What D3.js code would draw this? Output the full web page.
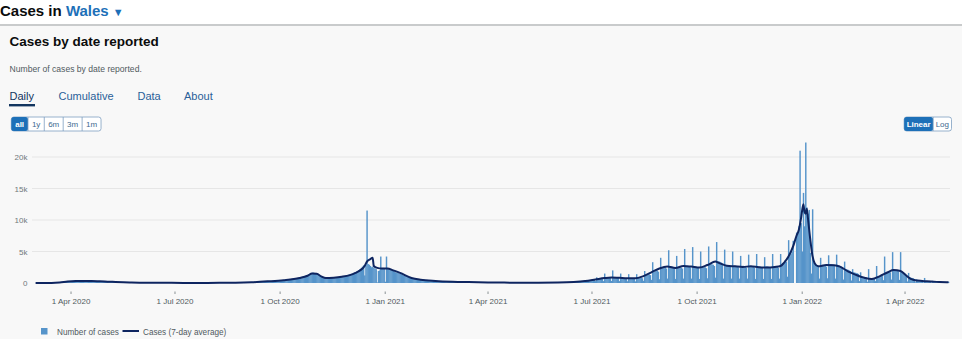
<!DOCTYPE html>
<html>
<head>
<meta charset="utf-8">
<script src="https://cdn.jsdelivr.net/npm/d3@7"></script>
<style>
  html, body { margin: 0; padding: 0; background: #f8f8f8; }
  svg { display: block; font-family: "Liberation Sans", Arial, sans-serif; }
</style>
</head>
<body>
<svg id="chart" width="962" height="339"></svg>
<script>
// Daily cases by date reported, Wales (one row per week, Sunday first)
// 1 Mar 2020 – 31 Dec 2020
const cases2020 = [
  0,1,0,1,2,2,3,
  4,6,8,10,12,16,20,
  24,30,40,50,70,90,110,
  130,150,180,200,220,240,250,
  260,280,300,320,330,320,340,
  300,330,360,350,370,340,320,
  300,340,350,360,340,330,310,
  290,320,330,320,300,290,270,
  250,270,280,270,260,240,230,
  210,230,220,210,200,190,180,
  160,170,170,160,150,140,130,
  120,130,120,110,110,100,95,
  85,90,90,85,80,75,70,
  60,65,62,60,55,50,48,
  45,48,45,42,40,38,36,
  33,36,34,32,30,30,28,
  26,28,27,25,24,23,22,
  20,22,21,20,19,18,18,
  17,19,18,18,17,16,16,
  15,17,16,16,15,15,14,
  14,16,15,15,14,14,14,
  14,16,16,17,16,17,17,
  18,20,19,20,21,20,22,
  22,25,24,26,25,27,28,
  28,32,30,33,34,35,36,
  38,42,44,46,48,50,55,
  58,65,70,80,90,100,110,
  115,130,140,150,160,170,180,
  190,200,215,230,240,250,260,
  270,290,300,320,330,340,350,
  360,380,400,420,430,450,470,
  480,510,540,560,580,600,620,
  650,690,720,760,780,800,830,
  860,920,980,1040,1100,1150,1200,
  1250,1350,1450,1550,1620,1650,1600,
  1500,1550,1450,1300,1150,1000,900,
  780,800,760,740,760,780,800,
  820,850,870,880,900,920,950,
  980,1010,1050,1080,1100,1150,1200,
  1250,1300,1350,1400,1450,1550,1650,
  1700,1800,1900,2000,2200,2400,2600,
  2800,1200,2900,11500,3000,2900,2700,
  2500,2600,2400,2300,2200,100,1900,
  2000,4200,2300,2400,2300
];

// 1 Jan 2021 – 31 Dec 2021
const cases2021 = [
  200,4200,
  2300,2200,2100,2100,2000,1900,1800,
  1700,1650,1600,1500,1450,1400,1300,
  1200,1150,1100,1000,950,900,850,
  780,760,720,680,650,620,600,
  560,540,520,500,480,460,440,
  420,400,390,370,360,350,330,
  320,310,300,290,280,270,260,
  250,240,240,230,220,215,210,
  200,200,195,190,185,180,175,
  170,165,160,160,155,150,150,
  145,140,140,135,130,130,125,
  120,120,115,110,110,105,100,
  100,95,95,90,90,85,85,
  80,80,75,75,70,70,68,
  65,65,62,60,60,58,56,
  55,54,52,50,50,48,47,
  46,45,44,44,43,42,42,
  41,40,40,40,39,38,38,
  38,37,37,36,36,36,35,
  35,36,36,37,38,38,40,
  42,44,46,48,50,53,56,
  60,65,70,75,80,86,92,
  100,108,116,125,135,145,155,
  165,180,195,210,225,240,255,
  270,285,300,315,330,345,360,
  380,420,440,470,500,520,540,
  300,900,650,680,700,720,650,
  300,1500,900,880,880,850,800,
  320,2000,900,880,860,820,800,
  300,1500,820,800,780,760,740,
  280,1400,780,760,740,720,700,
  260,1400,780,780,800,820,760,
  350,1900,1150,1250,1300,1350,1250,
  500,3300,1750,1850,1900,1950,1800,
  600,4000,2300,2400,2450,2500,2300,
  700,5200,2600,2650,2600,2550,2400,
  650,4300,2500,2550,2500,2450,2300,
  700,5400,2700,2750,2700,2650,2500,
  700,5700,2600,2650,2600,2550,2450,
  650,5000,2550,2600,2550,2500,2350,
  750,5800,2900,3000,2950,2900,2700,
  850,6500,3400,3450,3350,3250,3100,
  700,5300,2800,2850,2800,2750,2600,
  700,5000,2700,2750,2700,2650,2500,
  700,4300,2700,2750,2700,2650,2450,
  700,4500,2650,2700,2650,2600,2450,
  650,4600,2600,2650,2600,2550,2400,
  650,4100,2600,2650,2600,2550,2400,
  650,4600,2600,2650,2600,2550,2400,
  700,4600,2900,3100,3300,3600,3400,
  1000,6800,4200,4600,5000,6700,0,
  0,8000,7800,9000,21000,9500
];

// 1 Jan 2022 – 9 May 2022
const cases2022 = [
  5000,
  14300,9000,22300,12000,11000,11600,4800,
  1500,11700,3500,3000,2800,2700,2600,
  700,4000,2800,2900,2850,2800,2600,
  750,4400,2900,3000,2950,2900,2700,
  700,4500,2800,2800,2700,2600,2400,
  550,3400,2200,2150,2100,2000,1900,
  400,2200,1700,1650,1600,1550,1450,
  300,1700,1050,1000,980,950,900,
  200,2200,600,620,650,700,680,
  300,2700,1000,1050,1100,1150,1100,
  450,4200,1600,1650,1700,1750,1700,
  550,4900,2000,2050,2000,1950,1850,
  500,4900,1800,1700,1600,1450,1300,
  250,1600,900,850,800,750,650,
  120,600,420,400,380,360,340,
  80,800,280,270,260,250,240,
  60,350,210,200,190,185,170,
  50,300,160,155,150,145,130,
  40,200
];

const seriesStarts = ["2020-03-01", "2021-01-01", "2022-01-01"];

// Cases (7-day average)
const averagePoints = [
  ["2020-03-01",0],["2020-03-15",15],["2020-03-22",80],["2020-03-29",220],
  ["2020-04-05",310],["2020-04-12",335],["2020-04-19",320],["2020-04-26",270],
  ["2020-05-03",215],["2020-05-10",160],["2020-05-17",115],["2020-05-24",82],
  ["2020-05-31",58],["2020-06-14",33],["2020-06-28",21],["2020-07-19",15],
  ["2020-08-09",22],["2020-08-23",40],["2020-09-06",110],["2020-09-20",260],
  ["2020-10-04",450],["2020-10-18",800],["2020-10-25",1150],["2020-10-29",1500],
  ["2020-11-02",1450],["2020-11-06",1050],["2020-11-10",780],["2020-11-17",850],
  ["2020-11-24",1000],["2020-12-01",1250],["2020-12-06",1600],["2020-12-10",2000],
  ["2020-12-14",2700],["2020-12-16",3400],["2020-12-19",3800],["2020-12-21",4000],
  ["2020-12-22",2700],["2020-12-25",2400],["2020-12-29",2300],["2021-01-03",2300],
  ["2021-01-08",2000],["2021-01-14",1600],["2021-01-24",800],["2021-02-01",520],
  ["2021-02-14",320],["2021-03-01",200],["2021-03-15",145],["2021-04-01",95],
  ["2021-04-15",62],["2021-05-01",45],["2021-05-15",36],["2021-06-01",62],
  ["2021-06-15",150],["2021-06-25",300],["2021-07-04",550],["2021-07-12",780],
  ["2021-07-18",880],["2021-07-25",820],["2021-08-01",760],["2021-08-08",740],
  ["2021-08-15",1100],["2021-08-22",1700],["2021-08-29",2300],["2021-09-05",2600],
  ["2021-09-12",2400],["2021-09-19",2700],["2021-09-26",2600],["2021-10-03",2450],
  ["2021-10-10",2850],["2021-10-17",3400],["2021-10-20",3200],["2021-10-27",2750],
  ["2021-11-03",2650],["2021-11-10",2550],["2021-11-17",2650],["2021-11-24",2500],
  ["2021-12-01",2450],["2021-12-08",2550],["2021-12-13",2700],["2021-12-16",3200],
  ["2021-12-20",4200],["2021-12-24",5800],["2021-12-27",7500],["2021-12-29",8400],
  ["2021-12-31",10300],["2022-01-02",12500],["2022-01-03",11300],["2022-01-04",11000],
  ["2022-01-05",11800],["2022-01-06",10300],["2022-01-08",7000],["2022-01-10",4300],
  ["2022-01-12",3100],["2022-01-15",2650],["2022-01-22",2850],["2022-01-29",2800],
  ["2022-02-03",2600],["2022-02-10",1850],["2022-02-17",1300],["2022-02-24",850],
  ["2022-03-03",620],["2022-03-10",1100],["2022-03-17",1700],["2022-03-22",2050],
  ["2022-03-28",1900],["2022-04-02",1200],["2022-04-06",650],["2022-04-12",380],
  ["2022-04-20",260],["2022-05-01",160],["2022-05-09",100]
];

const yTickValues = [0, 5000, 10000, 15000, 20000];
const yTickLabels = ["0", "5k", "10k", "15k", "20k"];
const xTickDates = ["2020-04-01","2020-07-01","2020-10-01","2021-01-01","2021-04-01",
                    "2021-07-01","2021-10-01","2022-01-01","2022-04-01"];
const xTickLabels = ["1 Apr 2020","1 Jul 2020","1 Oct 2020","1 Jan 2021","1 Apr 2021",
                     "1 Jul 2021","1 Oct 2021","1 Jan 2022","1 Apr 2022"];
const tabLabels = ["Daily", "Cumulative", "Data", "About"];
const rangeLabels = ["all", "1y", "6m", "3m", "1m"];
const scaleLabels = ["Linear", "Log"];
const legendLabels = ["Number of cases", "Cases (7-day average)"];

const BAR = "#5694ca", LINE = "#0e2560", BLUE = "#1d70b8";
const parse = d3.utcParse("%Y-%m-%d");

// flatten the yearly arrays into one daily series
const daily = [];
[cases2020, cases2021, cases2022].forEach((arr, i) => {
  const start = parse(seriesStarts[i]);
  arr.forEach((v, k) => daily.push({ date: d3.utcDay.offset(start, k), value: v }));
});
const average = averagePoints.map(([d, v]) => ({ date: parse(d), value: v }));

const svg = d3.select("#chart");

// page header
svg.append("rect").attr("width", 962).attr("height", 25).attr("fill", "#ffffff");
svg.append("rect").attr("y", 24).attr("width", 962).attr("height", 2).attr("fill", "#c9cbcc");
const head = svg.append("text").attr("x", 0).attr("y", 16)
  .attr("font-size", 15).attr("font-weight", 700).attr("fill", "#0b0c0c");
head.append("tspan").text("Cases in ");
head.append("tspan").attr("fill", BLUE).text("Wales");
head.append("tspan").attr("fill", BLUE).attr("font-size", 11).attr("dx", 4).text("▼");

svg.append("text").attr("x", 9.5).attr("y", 46).attr("font-size", 13.5)
  .attr("font-weight", 700).attr("fill", "#0b0c0c").text("Cases by date reported");
svg.append("text").attr("x", 9.5).attr("y", 72).attr("font-size", 8.6)
  .attr("fill", "#505a5f").text("Number of cases by date reported.");

// tabs
const tabX = [9.5, 58.5, 137.5, 184];
tabLabels.forEach((t, i) => {
  svg.append("text").attr("x", tabX[i]).attr("y", 100).attr("font-size", 11)
    .attr("fill", i === 0 ? "#12355f" : "#2a5f98").text(t);
});
svg.append("rect").attr("x", 9).attr("y", 104).attr("width", 26).attr("height", 2.4)
  .attr("fill", "#12355f");

// button groups
function buttonGroup(labels, x0, alignRight, pad) {
  const g = svg.append("g");
  const texts = labels.map((t, i) => g.append("text").attr("font-size", 8)
    .attr("font-weight", i === 0 ? 700 : 400).text(t));
  const widths = texts.map(t => t.node().getComputedTextLength() + pad);
  const total = d3.sum(widths);
  let x = alignRight ? x0 - total : x0;
  const y = 117, h = 14;
  g.insert("rect", "text").attr("x", x).attr("y", y).attr("width", total).attr("height", h)
    .attr("rx", 2.5).attr("fill", "#ffffff").attr("stroke", "#7d9ec0").attr("stroke-width", 0.8);
  texts.forEach((t, i) => {
    if (i === 0) {
      g.insert("rect", "text").attr("x", x).attr("y", y).attr("width", widths[0]).attr("height", h)
        .attr("rx", 2.5).attr("fill", BLUE);
      t.attr("fill", "#ffffff");
    } else {
      g.insert("line", "text").attr("x1", x).attr("x2", x).attr("y1", y).attr("y2", y + h)
        .attr("stroke", "#7d9ec0").attr("stroke-width", 0.8);
      t.attr("fill", "#41698f");
    }
    t.attr("x", x + widths[i] / 2).attr("y", y + 10).attr("text-anchor", "middle");
    x += widths[i];
  });
}
buttonGroup(rangeLabels, 11.3, false, 7.8);
buttonGroup(scaleLabels, 951.5, true, 5);

// scales
const x = d3.scaleUtc().domain([parse("2020-03-01"), parse("2022-05-10")]).range([35.6, 949.6]);
const y = d3.scaleLinear().domain([0, 20000]).range([283, 157]);

// gridlines + y labels
const yAxis = svg.append("g");
yAxis.selectAll("line").data(yTickValues.slice(1)).join("line")
  .attr("x1", 32).attr("x2", 950).attr("y1", d => y(d)).attr("y2", d => y(d))
  .attr("stroke", "#e6e6e6").attr("stroke-width", 1);
yAxis.selectAll("text").data(yTickValues).join("text")
  .attr("x", 27.5).attr("y", d => y(d) + 3).attr("text-anchor", "end")
  .attr("font-size", 8).attr("fill", "#6f777b").text((d, i) => yTickLabels[i]);

// daily bars
const step = x(parse("2020-03-02")) - x(parse("2020-03-01"));
svg.append("g").selectAll("rect").data(daily.filter(d => d.value > 0)).join("rect")
  .attr("x", d => x(d.date) - step / 2)
  .attr("width", step + 0.3)
  .attr("y", d => y(d.value))
  .attr("height", d => y(0) - y(d.value))
  .attr("fill", BAR);

// 7-day average line
svg.append("path").datum(average)
  .attr("d", d3.line().x(d => x(d.date)).y(d => y(d.value)).curve(d3.curveMonotoneX))
  .attr("fill", "none").attr("stroke", LINE).attr("stroke-width", 2)
  .attr("stroke-linejoin", "round");

// x axis ticks
const xAxis = svg.append("g");
const xt = xTickDates.map(parse);
xAxis.selectAll("line").data(xt).join("line")
  .attr("x1", d => x(d)).attr("x2", d => x(d)).attr("y1", 291.5).attr("y2", 294)
  .attr("stroke", "#6f777b").attr("stroke-width", 0.8);
xAxis.selectAll("text").data(xt).join("text")
  .attr("x", d => x(d)).attr("y", 304).attr("text-anchor", "middle")
  .attr("font-size", 8).attr("fill", "#505a5f").text((d, i) => xTickLabels[i]);

// legend
const lg = svg.append("g");
lg.append("rect").attr("x", 41).attr("y", 328).attr("width", 6.5).attr("height", 6.5).attr("fill", BAR);
lg.append("text").attr("x", 57).attr("y", 334.5).attr("font-size", 8.2).attr("fill", "#505a5f")
  .text(legendLabels[0]);
lg.append("line").attr("x1", 122.5).attr("x2", 139).attr("y1", 331).attr("y2", 331)
  .attr("stroke", LINE).attr("stroke-width", 2);
lg.append("text").attr("x", 143).attr("y", 334.5).attr("font-size", 8.2).attr("fill", "#505a5f")
  .text(legendLabels[1]);
</script>
</body>
</html>
